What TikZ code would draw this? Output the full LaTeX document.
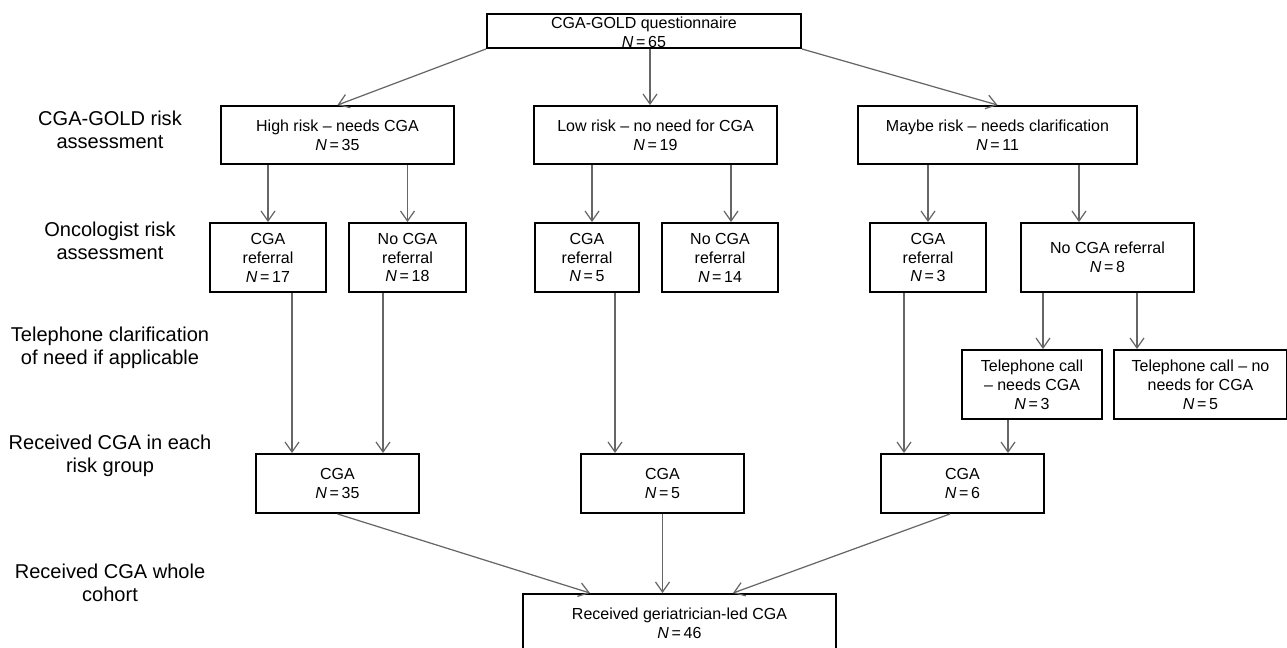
\documentclass[tikz,border=0pt]{standalone}
\usepackage{fontspec}
\setmainfont{Liberation Sans}
\usetikzlibrary{arrows.meta}
\tikzset{
    box/.style={draw=black, line width=1.1pt, align=center, inner sep=0pt, font=\fontsize{9.1}{10.8}\selectfont},
    lab/.style={align=center, font=\fontsize{11.4}{13}\selectfont},
    arr/.style={draw=black!60, line width=0.7pt, -{Straight Barb[length=2mm, width=2.8mm]}},
}
\newcommand\nval[1]{\textit{N}\,=\,#1}

\begin{document}
\begin{tikzpicture}
    \newcommand\rowA{-2.70}
    \newcommand\rowB{-5.15}
    \newcommand\rowC{-7.69}
    \newcommand\rowD{-9.67}

    \useasboundingbox (0,0) rectangle (25.74,-12.96);

    \node[lab] (labA) at (2.2, -2.59) {CGA-GOLD risk\\assessment};
    \node[lab] (labB) at (2.2, -4.82) {Oncologist risk\\assessment};
    \node[lab] (labC) at (2.2, -6.95) {Telephone clarification\\of need if applicable};
    \node[lab] (labD) at (2.2, -9.12) {Received CGA in each\\risk group};
    \node[lab] (labE) at (2.2, -11.66) {Received CGA whole\\cohort};

    \node[box, minimum width=6.28cm, minimum height=0.68cm, text height=19.2pt, text depth=0pt] (q) at (12.88, -0.62) {CGA-GOLD questionnaire\\\nval{65}};

    \node[box, minimum width=4.66cm, minimum height=1.16cm] (high) at (6.75, \rowA) {High risk -- needs CGA\\\nval{35}};
    \node[box, minimum width=4.86cm, minimum height=1.16cm] (low) at (13.11, \rowA) {Low risk -- no need for CGA\\\nval{19}};
    \node[box, minimum width=5.58cm, minimum height=1.16cm] (maybe) at (19.95, \rowA) {Maybe risk -- needs clarification\\\nval{11}};

    \node[box, minimum width=2.32cm, minimum height=1.38cm] (r17) at (5.36, \rowB) {CGA\\referral\\\nval{17}};
    \node[box, minimum width=2.34cm, minimum height=1.38cm] (n18) at (8.15, \rowB) {No CGA\\referral\\\nval{18}};
    \node[box, minimum width=2.08cm, minimum height=1.38cm] (r5) at (11.74, \rowB) {CGA\\referral\\\nval{5}};
    \node[box, minimum width=2.32cm, minimum height=1.38cm] (n14) at (14.40, \rowB) {No CGA\\referral\\\nval{14}};
    \node[box, minimum width=2.32cm, minimum height=1.38cm] (r3) at (18.56, \rowB) {CGA\\referral\\\nval{3}};
    \node[box, minimum width=3.46cm, minimum height=1.38cm] (n8) at (22.15, \rowB) {No CGA referral\\\nval{8}};

    \node[box, minimum width=2.80cm, minimum height=1.38cm] (tyes) at (20.64, \rowC) {Telephone call\\-- needs CGA\\\nval{3}};
    \node[box, minimum width=3.46cm, minimum height=1.38cm] (tno) at (24.01, \rowC) {Telephone call -- no\\needs for CGA\\\nval{5}};

    \node[box, minimum width=3.26cm, minimum height=1.18cm] (c35) at (6.75, \rowD) {CGA\\\nval{35}};
    \node[box, minimum width=3.26cm, minimum height=1.18cm] (c5) at (13.25, \rowD) {CGA\\\nval{5}};
    \node[box, minimum width=3.26cm, minimum height=1.18cm] (c6) at (19.25, \rowD) {CGA\\\nval{6}};

    \node[box, minimum width=6.26cm, minimum height=1.18cm] (fin) at (13.59, -12.47) {Received geriatrician-led CGA\\\nval{46}};

    % questionnaire to risk groups
    \draw[arr] (q.south west) -- (high.north);
    \draw[arr] (q.south -| 13.0,0) -- (low.north -| 13.0,0);
    \draw[arr] (q.south east) -- (maybe.north);

    % risk groups to oncologist
    \draw[arr] (high.south -| r17.north) -- (r17.north);
    \draw[arr] (high.south -| n18.north) -- (n18.north);
    \draw[arr] (low.south -| 11.84,0) -- (r5.north -| 11.84,0);
    \draw[arr] (low.south -| 14.62,0) -- (n14.north -| 14.62,0);
    \draw[arr] (maybe.south -| r3.north) -- (r3.north);
    \draw[arr] (maybe.south -| 21.58,0) -- (n8.north -| 21.58,0);

    % telephone
    \draw[arr] (n8.south -| 20.86,0) -- (tyes.north -| 20.86,0);
    \draw[arr] (n8.south -| 22.74,0) -- (tno.north -| 22.74,0);

    % received CGA
    \draw[arr] (r17.south -| 5.84,0) -- (c35.north -| 5.84,0);
    \draw[arr] (n18.south -| 7.66,0) -- (c35.north -| 7.66,0);
    \draw[arr] (r5.south -| 12.30,0) -- (c5.north -| 12.30,0);
    \draw[arr] (r3.south -| 18.08,0) -- (c6.north -| 18.08,0);
    \draw[arr] (tyes.south -| 20.16,0) -- (c6.north -| 20.16,0);

    % whole cohort
    \draw[arr] (c35.south) -- (fin.north -| 11.80,0);
    \draw[arr] (c5.south) -- (fin.north -| c5.south);
    \draw[arr] (c6.south -| 19.0,0) -- (fin.north -| 14.66,0);
\end{tikzpicture}
\end{document}
